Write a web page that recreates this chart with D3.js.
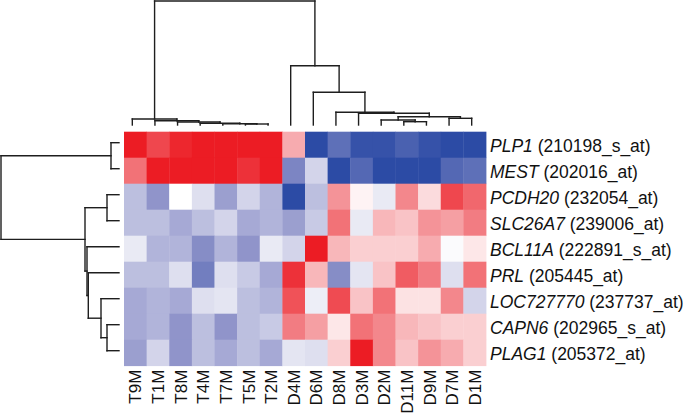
<!DOCTYPE html>
<html>
<head>
<meta charset="utf-8">
<script src="https://cdn.jsdelivr.net/npm/d3@7"></script>
<style>
html,body{margin:0;padding:0;background:#fff;}
svg{display:block;}
text{font-family:"Liberation Sans",Arial,sans-serif;}
</style>
</head>
<body>
<svg id="chart" width="683" height="416"></svg>
<script>
// ---- data ----
const samples = ["T9M","T1M","T8M","T4M","T7M","T5M","T2M","D4M","D6M","D8M","D3M","D2M","D11M","D9M","D7M","D1M"];
const genes = ["PLP1","MEST","PCDH20","SLC26A7","BCL11A","PRL","LOC727770","CAPN6","PLAG1"];
const probes = ["210198_s_at","202016_at","232054_at","239006_at","222891_s_at","205445_at","237737_at","202965_s_at","205372_at"];
// relative expression (-1 = blue, +1 = red), one array per gene row
const valPLP1    = [1.0,0.8,0.95,1,1,1,1,0.35,-1,-0.75,-0.95,-0.95,-0.85,-0.95,-1,-1];
const valMEST    = [0.6,1,1,1,1,0.9,1,-0.6,-0.2,-1,-0.8,-1,-1,-1,-0.8,-0.75];
const valPCDH20  = [-0.3,-0.5,0,-0.15,-0.45,-0.2,-0.35,-1,-0.3,0.45,0.05,-0.1,0.5,0.15,0.8,0.65];
const valSLC26A7 = [-0.3,-0.3,-0.4,-0.3,-0.2,-0.4,-0.35,-0.45,-0.25,0.6,-0.1,0.3,0.25,0.45,0.4,0.55];
const valBCL11A  = [-0.1,-0.35,-0.35,-0.55,-0.35,-0.5,-0.1,-0.2,1.0,0.3,0.2,0.2,0.2,0.35,-0.02,0.1];
const valPRL     = [-0.3,-0.3,-0.15,-0.65,-0.15,-0.25,-0.4,0.9,0.3,-0.55,-0.12,0.25,0.7,0.55,-0.15,0.6];
const valLOC     = [-0.4,-0.35,-0.4,-0.15,-0.12,-0.3,-0.35,0.75,-0.08,0.78,0.25,0.6,0.12,0.12,0.5,-0.2];
const valCAPN6   = [-0.4,-0.35,-0.5,-0.3,-0.5,-0.3,-0.25,0.55,0.4,0.1,0.6,0.5,0.3,0.25,0.2,0.2];
const valPLAG1   = [-0.45,-0.2,-0.5,-0.3,-0.4,-0.3,-0.4,-0.12,-0.15,0.2,1.0,0.5,0.25,0.45,0.35,0.2];
const values = [valPLP1,valMEST,valPCDH20,valSLC26A7,valBCL11A,valPRL,valLOC,valCAPN6,valPLAG1];

// dendrograms: merge heights
const colTree = {h:124, c:[
  {h:6, c:["T9M",{h:4.3,c:["T1M",{h:3,c:["T8M",{h:1.7,c:["T4M",{h:1.3,c:["T7M",{h:1,c:["T5M","T2M"]}]}]}]}]}]},
  {h:59.3, c:["D4M",{h:32.7,c:["D6M",{h:12.7,c:["D8M",{h:11.7,c:["D3M",{h:8.3,c:[
      {h:5,c:["D2M",{h:3.3,c:["D11M","D9M"]}]},
      {h:6.7,c:["D7M","D1M"]}]}]}]}]}]}
]};
const rowTree = {h:118, c:[
  {h:8, c:["PLP1","MEST"]},
  {h:34, c:[{h:12,c:["PCDH20","SLC26A7"]},
            {h:32,c:["BCL11A",{h:30.7,c:["PRL",{h:18,c:["LOC727770",{h:12,c:["CAPN6","PLAG1"]}]}]}]}]}
]};

// ---- layout ----
const svg = d3.select("#chart");
const hmLeft = 124, hmRight = 486, hmTop = 131.7, hmBottom = 365.7;

const x = d3.scaleBand().domain(samples).range([hmLeft, hmRight]);
const y = d3.scaleBand().domain(genes).range([hmTop, hmBottom]);
const color = d3.scaleLinear()
  .domain([-1,-0.5,0,0.5,1])
  .range(["#2c4ba5","#9094ca","#ffffff","#f3878c","#ec1c24"])
  .clamp(true);

// heatmap cells
const cells = [];
genes.forEach((g,i)=>samples.forEach((s,j)=>cells.push({g,s,v:values[i][j]})));
svg.append("g").selectAll("rect").data(cells).join("rect")
  .attr("x", d=>x(d.s)).attr("y", d=>y(d.g))
  .attr("width", x.bandwidth()+0.4).attr("height", y.bandwidth()+0.4)
  .attr("fill", d=>color(d.v));

// dendrogram drawing
function drawTree(tree, leafPos, hScale, horizontal, g){
  function walk(node){
    if (typeof node === "string") return {p: leafPos(node), h: 0};
    const kids = node.c.map(walk);
    const ps = kids.map(k=>k.p);
    const p = d3.mean(ps);
    const hv = hScale(node.h);
    kids.forEach(k=>{
      const hk = hScale(k.h);
      if (horizontal) g.append("line").attr("x1",k.p).attr("x2",k.p).attr("y1",hv).attr("y2",hk);
      else g.append("line").attr("y1",k.p).attr("y2",k.p).attr("x1",hv).attr("x2",hk);
    });
    const lo = d3.min(ps), hi = d3.max(ps);
    if (horizontal) g.append("line").attr("x1",lo).attr("x2",hi).attr("y1",hv).attr("y2",hv);
    else g.append("line").attr("y1",lo).attr("y2",hi).attr("x1",hv).attr("x2",hv);
    return {p, h: node.h};
  }
  walk(tree);
}
const gCol = svg.append("g").attr("stroke","#1e1e1e").attr("stroke-width",1.4).attr("stroke-linecap","square");
const colH = d3.scaleLinear().domain([0,124]).range([125,1]);
drawTree(colTree, s=>x(s)+x.bandwidth()/2-3, colH, true, gCol);

const gRow = svg.append("g").attr("stroke","#1e1e1e").attr("stroke-width",1.4).attr("stroke-linecap","square");
const rowH = d3.scaleLinear().domain([0,118]).range([119,1]);
drawTree(rowTree, g=>y(g)+y.bandwidth()/2-2, rowH, false, gRow);

// column labels
svg.append("g").selectAll("text").data(samples).join("text")
  .attr("transform", d=>`translate(${x(d)+x.bandwidth()/2},${hmBottom+4}) rotate(-90)`)
  .attr("text-anchor","end").attr("dy","0.36em")
  .attr("font-size",17).attr("fill","#111")
  .text(d=>d);

// row labels
const rl = svg.append("g").selectAll("text").data(genes).join("text")
  .attr("x", 490).attr("y", d=>y(d)+y.bandwidth()/2+1)
  .attr("dominant-baseline","central")
  .attr("font-size",17.5).attr("fill","#111");
rl.append("tspan").attr("font-style","italic").text(d=>d);
rl.append("tspan").text((d,i)=>" ("+probes[i]+")");
</script>
</body>
</html>
